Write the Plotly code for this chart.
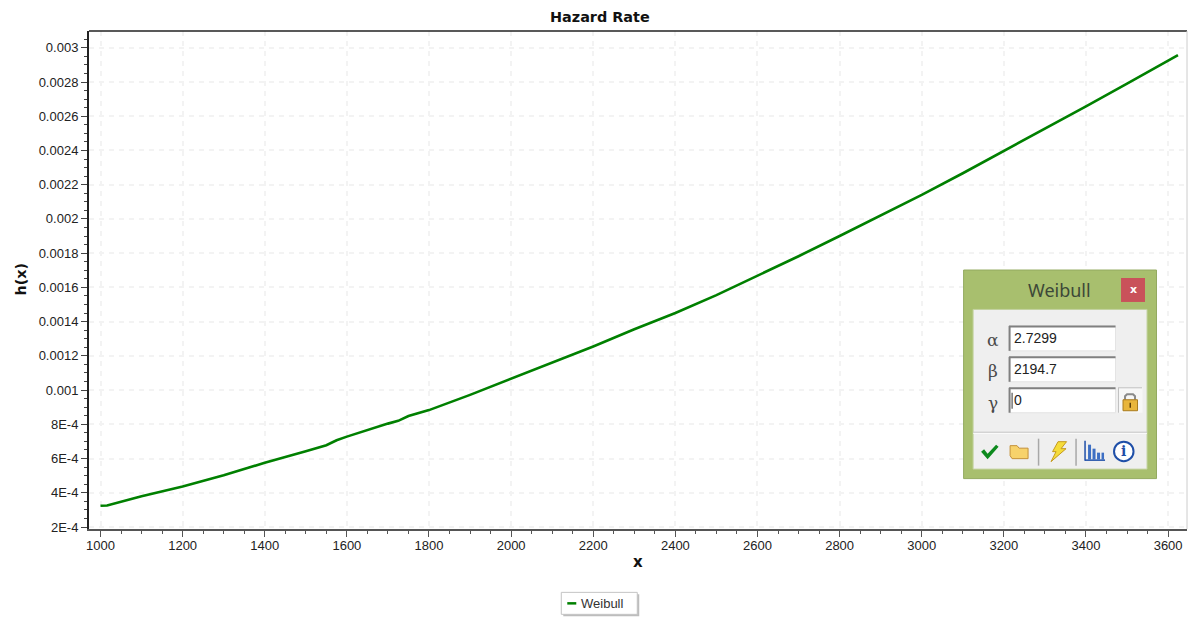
import plotly.graph_objects as go

# values
x_vals = [1000, 1016, 1100, 1200, 1300, 1400, 1500, 1550, 1575, 1600, 1700, 1725, 1750, 1800, 1900, 2000, 2100, 2200,
          2300, 2400, 2500, 2600, 2700, 2800, 2900, 3000, 3100, 3200, 3300, 3400, 3500, 3600, 3624]
h_vals = [3.24e-4, 3.26e-4, 3.8e-4, 4.36e-4, 5.02e-4, 5.75e-4, 6.43e-4, 6.78e-4, 7.07e-4, 7.28e-4, 8.04e-4, 8.2e-4,
          8.48e-4, 8.83e-4, 9.72e-4, 1.065e-3, 1.16e-3, 1.255e-3, 1.355e-3, 1.45e-3, 1.555e-3, 1.667e-3, 1.782e-3, 1.9e-3,
          2.018e-3, 2.14e-3, 2.267e-3, 2.396e-3, 2.526e-3, 2.658e-3, 2.79e-3, 2.926e-3, 2.957e-3]
x_ticks = list(range(1000, 3601, 200))
y_ticks = [2e-4, 4e-4, 6e-4, 8e-4, 1e-3, 1.2e-3, 1.4e-3, 1.6e-3, 1.8e-3, 2e-3, 2.2e-3, 2.4e-3, 2.6e-3, 2.8e-3, 3e-3]
y_labels = ["2E-4", "4E-4", "6E-4", "8E-4", "0.001", "0.0012", "0.0014", "0.0016", "0.0018",
            "0.002", "0.0022", "0.0024", "0.0026", "0.0028", "0.003"]
params = ["2.7299", "2194.7", "0"]
symbols = ["α", "β", "γ"]

W, H = 1188, 617
L, R, T, B = 88.5, 1187.0, 30.5, 529.5
TICK_FONT = "Liberation Sans"
BOLD_FONT = "DejaVu Sans"


def px(v):
    return (v - L) / (R - L)


def py(v):
    return (B - v) / (B - T)


def rect(x0, y0, x1, y1, fill=None, line=None, lw=1):
    return dict(type="rect", xref="paper", yref="paper", x0=px(x0), x1=px(x1), y0=py(y0), y1=py(y1),
                fillcolor=fill or "rgba(0,0,0,0)", line=dict(color=line or "rgba(0,0,0,0)", width=lw if line else 0))


def seg(x0, y0, x1, y1, color, lw=1):
    return dict(type="line", xref="paper", yref="paper", x0=px(x0), x1=px(x1), y0=py(y0), y1=py(y1),
                line=dict(color=color, width=lw))


def poly(points, fill=None, line=None, lw=1, close=True):
    d = "M " + " L ".join(f"{px(a):.5f},{py(b):.5f}" for a, b in points) + (" Z" if close else "")
    return dict(type="path", xref="paper", yref="paper", path=d, fillcolor=fill or "rgba(0,0,0,0)",
                line=dict(color=line or "rgba(0,0,0,0)", width=lw if line else 0))


def label(x, y, text, size=12, color="#222222", family=TICK_FONT, anchor="center"):
    return dict(xref="paper", yref="paper", x=px(x), y=py(y), text=text, showarrow=False, xanchor=anchor,
                yanchor="middle", font=dict(size=size, color=color, family=family))


fig = go.Figure(go.Scatter(x=x_vals, y=h_vals, mode="lines", name="Weibull", showlegend=False,
                           line=dict(color="#008000", width=2.6)))

shapes = [seg(88.5, T, R, T, "#222222", 1.5), seg(R, T, R, B, "#cccccc", 1)]

# legend box
shapes += [rect(563, 595, 639, 617, fill="#bdbdbd"), rect(561, 593, 637, 615, fill="#ffffff", line="#c4c4c4", lw=1),
           seg(567, 604, 576, 604, "#008000", 2.5)]

# floating Weibull panel
shapes += [rect(963.5, 270, 1156.5, 479, fill="#a8bf6e", line="#93aa60"),
           rect(1121, 278, 1145, 302, fill="#c9525a"),
           rect(973, 309.5, 1147, 469.5, fill="#efefef", line="#c3d2a0"),
           seg(973, 433.5, 1147, 433.5, "#ffffff", 1), seg(973, 432.5, 1147, 432.5, "#c4c4c4", 1)]
for y0 in [326, 357, 388]:
    shapes += [rect(1009, y0, 1115.5, y0 + 25, fill="#ffffff", line="#e4e4e4"),
               seg(1009, y0 + 0.5, 1115.5, y0 + 0.5, "#808080", 2), seg(1009.5, y0, 1009.5, y0 + 25, "#808080", 2)]
shapes.append(seg(1012, 393, 1012, 409, "#333333", 1))

# lock button and icon
shapes += [rect(1118, 387.5, 1142.5, 413, fill="#f7f7f7"), seg(1118, 388, 1142, 388, "#c0c0c0", 1),
           seg(1118.5, 388, 1118.5, 413, "#c0c0c0", 1),
           poly([(1125, 400), (1125, 396.5), (1127, 394.5), (1133, 394.5), (1135, 396.5), (1135, 400)], line="#8a8a8a", lw=2, close=False),
           rect(1123, 400, 1137.5, 411, fill="#e8b53c", line="#a87a1e"), rect(1129.5, 403, 1131, 408, fill="#5a3d0a")]

# toolbar icons
shapes += [poly([(981, 452), (984, 449.5), (987.5, 454), (996, 445), (998.5, 447), (987.5, 459.5)], fill="#0d8a1e"),
           poly([(1010, 446), (1017, 446), (1019, 448.5), (1028, 448.5), (1028, 459), (1012, 459), (1010, 456)], fill="#f7d26b", line="#c4913a", lw=1),
           seg(1038.5, 439, 1038.5, 466, "#a8a8a8", 1.5), seg(1076, 439, 1076, 466, "#a8a8a8", 1.5),
           poly([(1058, 442), (1066.5, 442), (1061, 449), (1066, 449), (1051, 462), (1056, 452), (1052.5, 452)], fill="#f5dc3a", line="#c49a20", lw=1)]
shapes += [seg(1085, 441, 1085, 461, "#1f4fa8", 1.5), seg(1085, 460.5, 1105, 460.5, "#1f4fa8", 1.5),
           rect(1088, 445, 1091, 460, fill="#3d6fc4"), rect(1092.5, 449, 1095.5, 460, fill="#3d6fc4"),
           rect(1097, 453, 1100, 460, fill="#3d6fc4"), rect(1101.5, 453, 1104, 460, fill="#3d6fc4")]
shapes.append(dict(type="circle", xref="paper", yref="paper", x0=px(1114), x1=px(1133.5), y0=py(442), y1=py(461.5),
                   fillcolor="#ffffff", line=dict(color="#1f4fa8", width=2)))

annotations = [
    label(600, 16, "<b>Hazard Rate</b>", 14.4, "#111111", BOLD_FONT),
    label(637.5, 563, "<b>x</b>", 15, "#111111", BOLD_FONT),
    label(602, 604.5, "Weibull", 13, "#333333"),
    label(1059.5, 290, "Weibull", 18, "#3c4838", "Noto Sans"),
    label(1133, 289.5, "<b>x</b>", 11, "#ffffff", "DejaVu Sans"),
    label(1123.7, 451.5, "<b>i</b>", 14, "#1f4fa8", "DejaVu Serif"),
]
annotations.append(dict(xref="paper", yref="paper", x=px(20), y=py(279), xanchor="center", yanchor="middle",
                        text="<b>h(x)</b>", textangle=-90, showarrow=False,
                        font=dict(size=14.4, color="#111111", family=BOLD_FONT)))
for sym, val, yc, ys in zip(symbols, params, [338.5, 369.5, 400.5], [340, 371, 403]):
    annotations.append(label(993, ys, sym, 17, "#4a4a4a", "DejaVu Serif"))
    annotations.append(label(1012, yc, val, 14, "#222222", anchor="left"))

fig.update_layout(
    width=W, height=H, autosize=False,
    margin=dict(l=L, r=W - R, t=T, b=H - B, pad=0),
    paper_bgcolor="#ffffff", plot_bgcolor="#ffffff",
    font=dict(family=TICK_FONT, size=12, color="#222222"),
    shapes=shapes, annotations=annotations,
)
fig.update_xaxes(
    range=[972, 3646], tickmode="array", tickvals=x_ticks, ticks="outside", ticklen=6, tickcolor="#555555",
    showline=True, linecolor="#555555", linewidth=2, zeroline=False, ticklabelstandoff=-3,
    showgrid=True, gridcolor="#f3f3f3", griddash="5px,5px", gridwidth=1.5,
    tickfont=dict(size=13, color="#222222", family=TICK_FONT),
    minor=dict(dtick=50, ticks="outside", ticklen=3, tickcolor="#555555", showgrid=False),
)
fig.update_yaxes(
    range=[1.883e-4, 3.098e-3], tickmode="array", tickvals=y_ticks, ticktext=y_labels, ticks="outside", ticklen=6,
    tickcolor="#444444", showline=True, linecolor="#222222", linewidth=2, zeroline=False,
    showgrid=True, gridcolor="#f3f3f3", griddash="5px,5px", gridwidth=1.5,
    tickfont=dict(size=13, color="#222222", family=TICK_FONT),
    minor=dict(dtick=5e-5, tick0=0, ticks="outside", ticklen=3, tickcolor="#444444", showgrid=False),
)

fig.write_html("out.html", config=dict(displayModeBar=False), post_script="document.body.style.margin='0';")
